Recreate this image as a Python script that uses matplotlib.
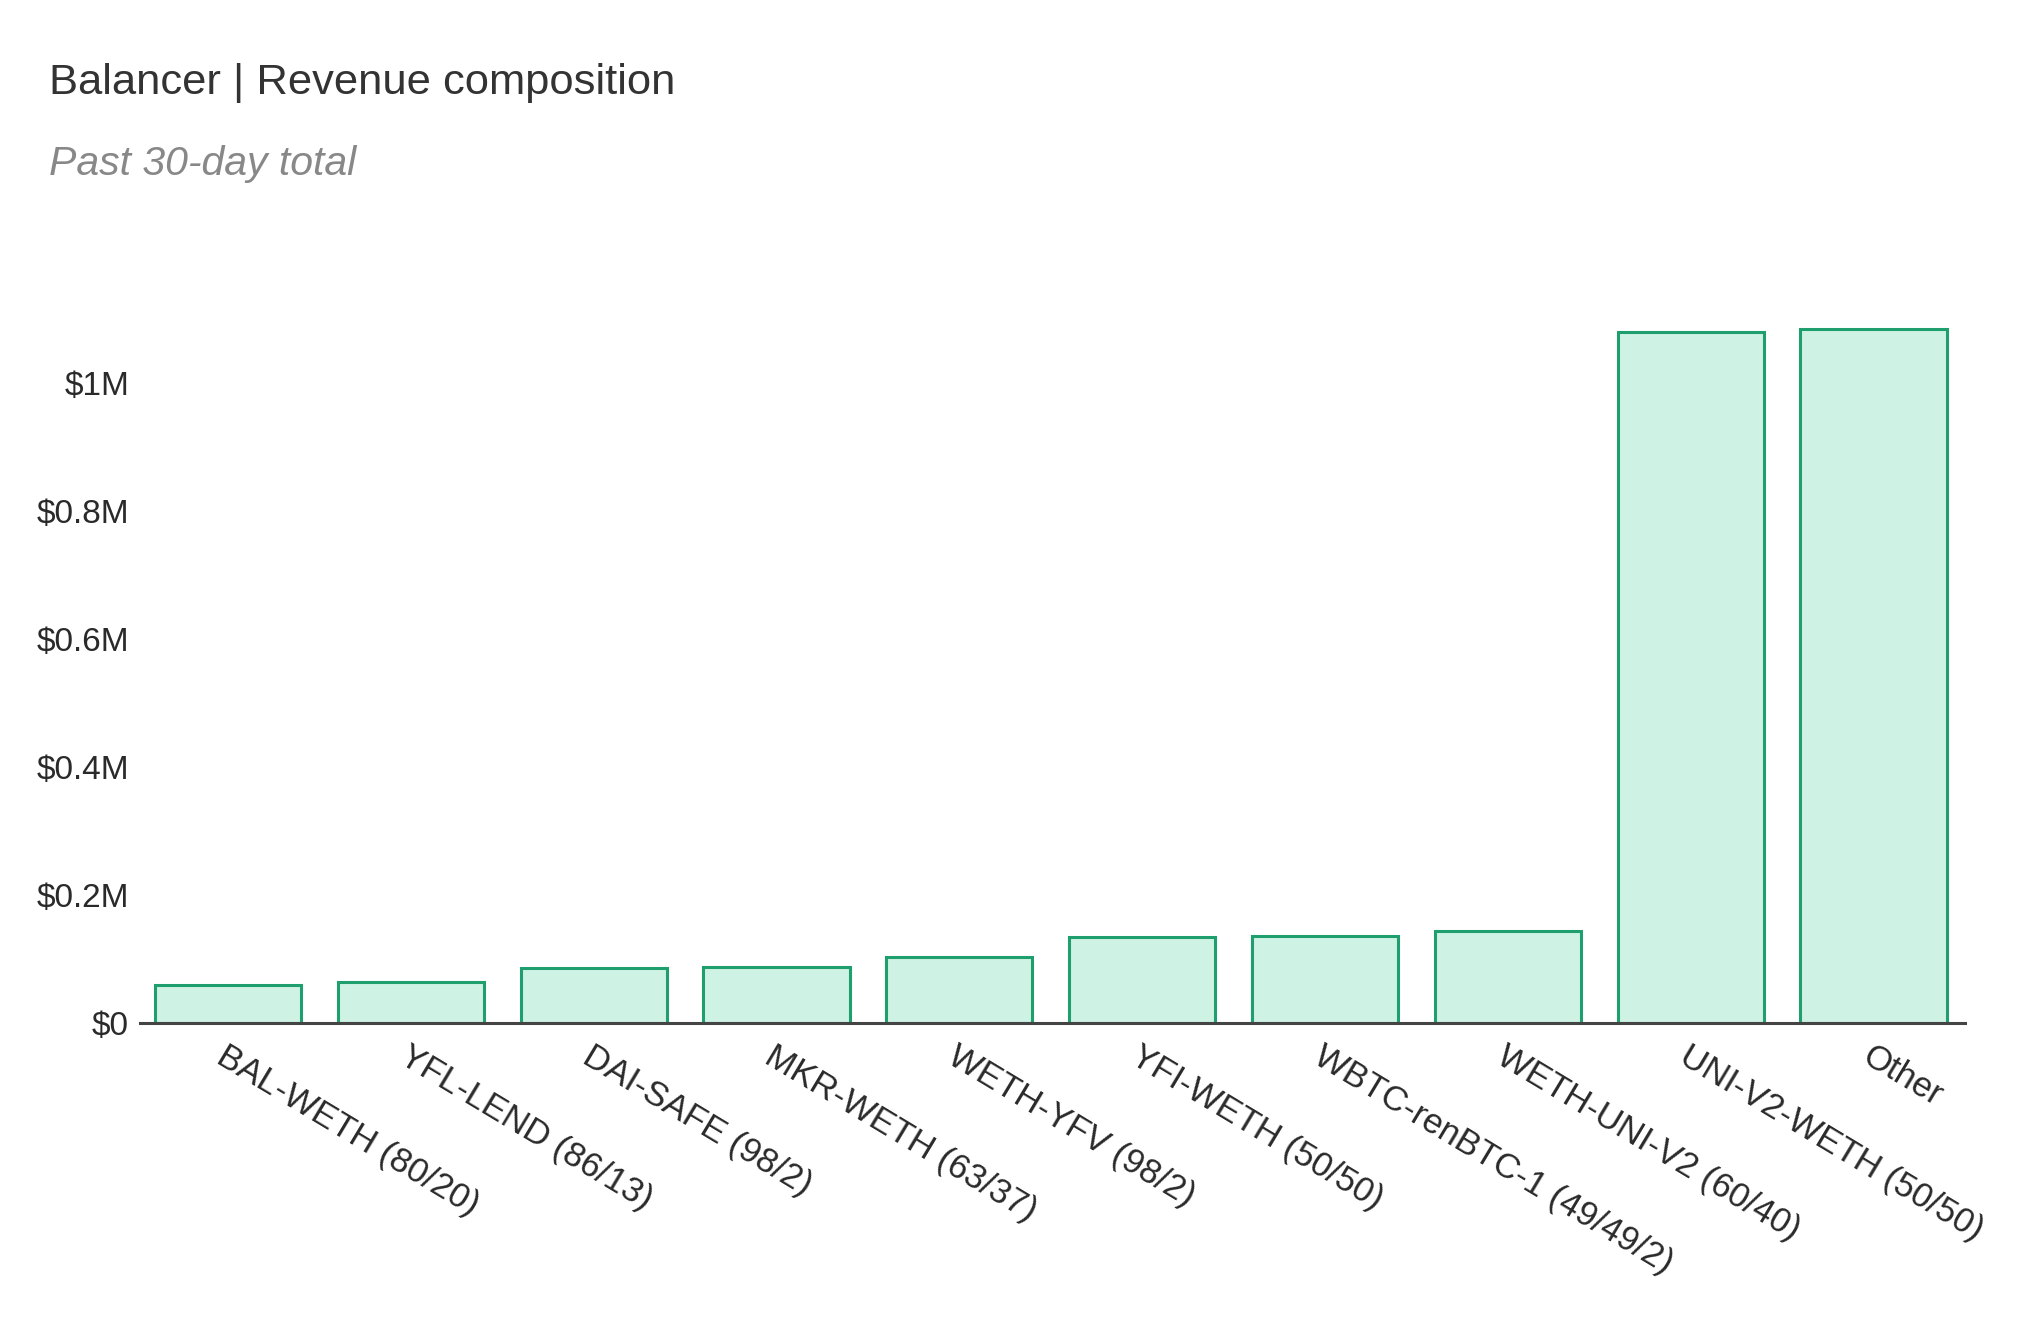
import matplotlib.pyplot as plt
from matplotlib.ticker import FuncFormatter

plt.rcParams['font.family'] = ['Liberation Sans', 'DejaVu Sans']

# pools and their past 30-day revenue (USD)
pools = ['BAL-WETH (80/20)', 'YFL-LEND (86/13)', 'DAI-SAFE (98/2)',
         'MKR-WETH (63/37)', 'WETH-YFV (98/2)', 'YFI-WETH (50/50)',
         'WBTC-renBTC-1 (49/49/2)', 'WETH-UNI-V2 (60/40)',
         'UNI-V2-WETH (50/50)', 'Other']
revenue = [59000, 63000, 85000, 87000, 103000, 134000,
           135000, 144000, 1081000, 1085000]

fig = plt.figure(figsize=(20.32, 13.42), dpi=100)
ax = fig.add_axes([0.069, 0.238, 0.898, 0.543])

ax.bar(range(len(pools)), revenue, width=0.8, color='#cef2e4',
       edgecolor='#1f9e6e', linewidth=2.2, zorder=2)

ax.set_xlim(-0.48, 9.5)
ax.set_ylim(0, 1.14e6)


def money(v, pos):
    if v == 0:
        return '$0'
    m = v / 1e6
    return '$%gM' % round(m, 1)


ax.set_yticks([0, 200000, 400000, 600000, 800000, 1000000])
ax.yaxis.set_major_formatter(FuncFormatter(money))
ax.set_xticks(range(len(pools)))
ax.set_xticklabels(pools, rotation=-31, ha='left', va='top',
                   rotation_mode='anchor', fontsize=25)

for s in ['top', 'right', 'left']:
    ax.spines[s].set_visible(False)
ax.spines['bottom'].set_color('#444444')
ax.spines['bottom'].set_linewidth(2.2)
ax.tick_params(axis='both', length=0, colors='#2a2a2a')
ax.tick_params(axis='y', labelsize=24, pad=8)
ax.tick_params(axis='x', pad=12)

fig.text(0.024, 0.938, 'Balancer | Revenue composition', fontsize=31.3,
         color='#333333', va='center')
fig.text(0.024, 0.878, 'Past 30-day total', fontsize=29.5, color='#888888',
         style='italic', va='center')

fig.savefig('out.png', dpi=100, facecolor='white')
